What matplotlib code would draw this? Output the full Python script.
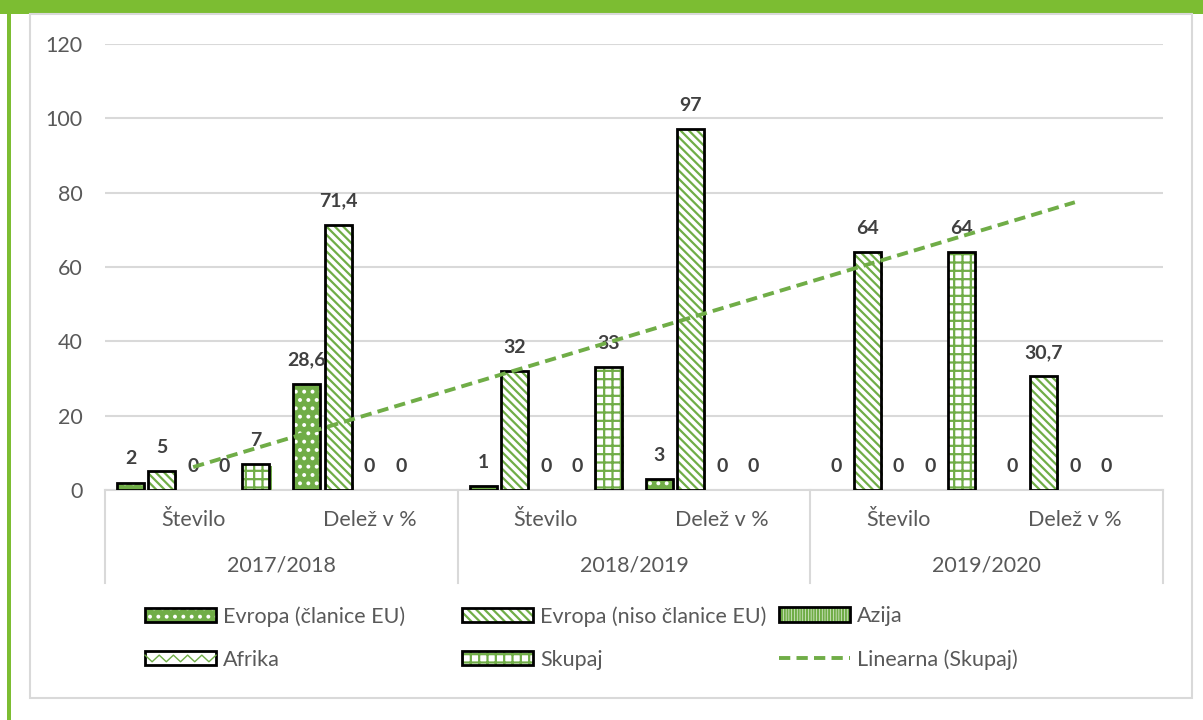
import numpy as np
import matplotlib.pyplot as plt
import matplotlib.patheffects as pe
from matplotlib.patches import Patch, Rectangle
from matplotlib.lines import Line2D
from matplotlib.legend_handler import HandlerBase

plt.rcParams["font.family"] = ["Lato", "DejaVu Sans"]
plt.rcParams["hatch.linewidth"] = 1.6

groups = ["2017/2018", "2018/2019", "2019/2020"]
subcats = ["Število", "Delež v %", "Število", "Delež v %", "Število", "Delež v %"]
series_names = ["Evropa (članice EU)", "Evropa (niso članice EU)", "Azija", "Afrika", "Skupaj"]
eu = [2, 28.6, 1, 3, 0, 0]
non_eu = [5, 71.4, 32, 97, 64, 30.7]
azija = [0, 0, 0, 0, 0, 0]
afrika = [0, 0, 0, 0, 0, 0]
skupaj = [7, np.nan, 33, np.nan, 64, np.nan]
yticks = [0, 20, 40, 60, 80, 100, 120]

GREEN = "#70AD47"
BAND = "#7CBD32"
GRID = "#D9D9D9"
TXT = "#595959"
LBL = "#404040"

# fill, hatch colour, hatch pattern for each series
styles = [
    (GREEN, "white", ".."),
    ("white", GREEN, "\\\\\\\\"),
    ("white", GREEN, "||||||"),
    ("white", GREEN, ""),
    ("white", GREEN, "++"),
]

fig = plt.figure(figsize=(12.03, 7.2), dpi=100)

# frame decoration
fig.patches.append(Rectangle((0, 1 - 14 / 720), 1, 14 / 720, transform=fig.transFigure,
                             fc=BAND, ec="none", zorder=0))
fig.patches.append(Rectangle((7 / 1203, 0), 4 / 1203, 1, transform=fig.transFigure,
                             fc=BAND, ec="none", zorder=0))
fig.patches.append(Rectangle((30 / 1203, 22 / 720), 1162 / 1203, 684 / 720,
                             transform=fig.transFigure, fc="none", ec=GRID, lw=1.5, zorder=0))

ax = fig.add_axes([105 / 1203, 230 / 720, 1058 / 1203, 446 / 720])

x = np.arange(len(subcats))
step = 0.178
width = 0.153
all_series = [eu, non_eu, azija, afrika, skupaj]

for i, vals in enumerate(all_series):
    vals = np.array(vals, dtype=float)
    pos = x + (i - 2) * step
    fc, hc, hatch = styles[i]
    show = np.nan_to_num(vals) > 0
    h = np.where(show, vals, 0)
    b1 = ax.bar(pos, h, width, color=fc, edgecolor=hc, hatch=hatch, lw=0, zorder=3)
    b2 = ax.bar(pos, h, width, facecolor="none", edgecolor="black", lw=2, zorder=4)
    for p1, p2, s in zip(b1, b2, show):
        if not s:
            p1.set_visible(False)
            p2.set_visible(False)
        else:
            p1.set_path_effects([pe.SimplePatchShadow(offset=(1.5, -1.5), shadow_rgbFace="#888888", alpha=0.35),
                                 pe.Normal()])
    for xp, v in zip(pos, vals):
        if np.isnan(v):
            continue
        txt = f"{v:g}".replace(".", ",")
        ax.annotate(txt, (xp, v), xytext=(0, 17), textcoords="offset points",
                    ha="center", va="center", fontsize=14, fontweight="bold", color=LBL, zorder=5)

# linear trend of Skupaj
sk = np.array(skupaj, dtype=float)
ok = ~np.isnan(sk)
coef = np.polyfit(x[ok], sk[ok], 1)
ax.plot(x, np.polyval(coef, x), color=GREEN, lw=2.8, ls=(0, (2.9, 1.6)), zorder=6)

ax.set_xlim(-0.5, 5.5)
ax.set_ylim(0, 120)
ax.set_yticks(yticks)
ax.tick_params(axis="y", length=0, pad=16, labelsize=15.5, labelcolor=TXT)
ax.grid(axis="y", color=GRID, lw=1.5, zorder=0)
for s in ["top", "right", "left"]:
    ax.spines[s].set_visible(False)
ax.spines["bottom"].set_color(GRID)
ax.spines["bottom"].set_linewidth(1.5)
ax.set_xticks([])

tr = ax.get_xaxis_transform()
for xb in [-0.5, 1.5, 3.5, 5.5]:
    ax.plot([xb, xb], [0, -93 / 446], transform=tr, color=GRID, lw=1.5, clip_on=False)
for xi, lab in zip(x, subcats):
    ax.text(xi, -30 / 446, lab, transform=tr, ha="center", va="center", fontsize=15.5, color=TXT)
for gi, g in enumerate(groups):
    ax.text(2 * gi + 0.5, -75 / 446, g, transform=tr, ha="center", va="center", fontsize=15.5, color=TXT)


class ZigZagHandler(HandlerBase):
    def create_artists(self, legend, orig, xd, yd, w, h, fontsize, trans):
        rect = Rectangle((-xd, -yd), w, h, fc="white", ec="black", lw=2, transform=trans)
        xs = np.linspace(-xd, -xd + w, 11)
        ys = [(-yd + h * 0.7) if k % 2 == 0 else (-yd + h * 0.25) for k in range(11)]
        zz = Line2D(xs, ys, color=GREEN, lw=1.0, transform=trans)
        return [rect, zz]


def bar_handle(i):
    fc, hc, hatch = styles[i]
    return (Patch(facecolor=fc, edgecolor=hc, hatch=hatch, lw=0),
            Patch(facecolor="none", edgecolor="black", lw=2))


afr_handle = Patch(facecolor="white")
trend_handle = Line2D([], [], color=GREEN, lw=2.8, ls=(0, (2.9, 1.6)))

columns = [
    ([bar_handle(0), afr_handle], [series_names[0], series_names[3]], 145),
    ([bar_handle(1), bar_handle(4)], [series_names[1], series_names[4]], 462),
    ([bar_handle(2), trend_handle], [series_names[2], "Linearna (Skupaj)"], 779),
]
for handles, labels, xpx in columns:
    leg = fig.legend(handles, labels, loc="upper left", bbox_to_anchor=(xpx / 1203, 1 - 606 / 720),
                     frameon=False, fontsize=15.5, labelcolor=TXT, handlelength=3.3, handleheight=0.68,
                     handletextpad=0.33, labelspacing=1.07, borderpad=0, borderaxespad=0,
                     handler_map={afr_handle: ZigZagHandler()})

fig.savefig("out.png", dpi=100)
